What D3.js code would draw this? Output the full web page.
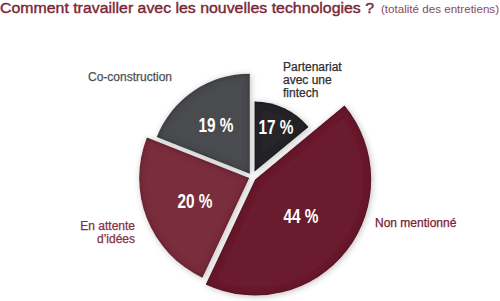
<!DOCTYPE html>
<html>
<head>
<meta charset="utf-8">
<style>
body { margin: 0; background: #fff; overflow: hidden; }
svg { display: block; }
.title { font-family: "Liberation Sans", Arial, sans-serif; fill: #7a2637; }
.lbl { font-family: "Liberation Sans", Arial, sans-serif; font-size: 12px; stroke-width: 0.25px; }
.pct { font-family: "Liberation Sans", Arial, sans-serif; font-weight: bold; font-size: 20px; fill: #fff; text-anchor: middle; }
</style>
</head>
<body>
<svg width="500" height="301"></svg>
<script src="https://d3js.org/d3.v7.min.js"></script>
<script>

// categories, clockwise from 12 o'clock
var categories = ["Partenariat avec une fintech", "Non mentionné", "En attente d’idées", "Co-construction"];
// printed percentages
var percents = [17, 44, 20, 19];
// angular share of each slice as it is drawn in the picture (the artwork is not exact)
var drawnShares = [14, 43, 24, 19];
// label lines
var labelLines = [["Partenariat", "avec une", "fintech"], ["Non mentionné"], ["En attente", "d’idées"], ["Co-construction"]];

// styling per slice
var fills = ["#28282a", "#6a1a2d", "#7a2d3c", "#4a4c50"],
    textColors = ["#2e2e30", "#7a2035", "#83303f", "#4f5054"],
    radii = [70, 116, 110, 100],
    explode = [6, 4, 3, 4];

var svg = d3.select("svg"),
    cx = 252, cy = 177;

var defs = svg.append("defs");
var f = defs.append("filter").attr("id", "shade")
    .attr("x", "-10%").attr("y", "-10%").attr("width", "120%").attr("height", "120%");
f.append("feGaussianBlur").attr("in", "SourceAlpha").attr("stdDeviation", 3).attr("result", "blur");
f.append("feComposite").attr("in", "SourceAlpha").attr("in2", "blur")
    .attr("operator", "arithmetic").attr("k2", 1).attr("k3", -1).attr("result", "ring");
f.append("feFlood").attr("flood-color", "#000").attr("flood-opacity", 0.6).attr("result", "black");
f.append("feComposite").attr("in", "black").attr("in2", "ring").attr("operator", "in").attr("result", "inner");
f.append("feOffset").attr("in", "blur").attr("dx", 1).attr("dy", 1).attr("result", "off");
f.append("feFlood").attr("flood-color", "#000").attr("flood-opacity", 0.25).attr("result", "grey");
f.append("feComposite").attr("in", "grey").attr("in2", "off").attr("operator", "in").attr("result", "drop");
var m = f.append("feMerge");
m.append("feMergeNode").attr("in", "drop");
m.append("feMergeNode").attr("in", "SourceGraphic");
m.append("feMergeNode").attr("in", "inner");

// title
var title = svg.append("text").attr("class", "title").attr("y", 13);
title.append("tspan").attr("x", 0).attr("font-size", 15.5)
    .attr("stroke", "#7a2637").attr("stroke-width", 0.4)
    .attr("textLength", 374).attr("lengthAdjust", "spacingAndGlyphs")
    .text("Comment travailler avec les nouvelles technologies ?");
title.append("tspan").attr("x", 381).attr("font-size", 11).attr("fill", "#8c4a5a")
    .attr("textLength", 118).attr("lengthAdjust", "spacingAndGlyphs")
    .text("(totalité des entretiens)");

var data = categories.map(function(c, i) {
  return { name: c, pct: percents[i], share: drawnShares[i], i: i };
});

var pie = d3.pie().sort(null).value(function(d) { return d.share; });
var arcs = pie(data);

var g = svg.append("g").attr("transform", "translate(" + cx + "," + cy + ")");

var slice = g.selectAll(".slice")
  .data(arcs)
  .enter().append("g")
    .attr("class", "slice")
    .attr("transform", function(d) {
      var a = (d.startAngle + d.endAngle) / 2, e = explode[d.data.i];
      return "translate(" + (Math.sin(a) * e) + "," + (-Math.cos(a) * e) + ")";
    });

slice.append("path")
    .attr("d", function(d) {
      return d3.arc().innerRadius(0).outerRadius(radii[d.data.i])(d);
    })
    .attr("fill", function(d) { return fills[d.data.i]; })
    .attr("filter", "url(#shade)");

// percentage labels, placed along each slice bisector
var pctPos = [0.72, 0.5, 0.53, 0.6];
slice.append("text")
    .attr("class", "pct")
    .attr("transform", function(d) {
      var a = (d.startAngle + d.endAngle) / 2, r = radii[d.data.i] * pctPos[d.data.i];
      return "translate(" + (Math.sin(a) * r) + "," + (-Math.cos(a) * r + 8) + ")";
    })
    .attr("textLength", 35)
    .attr("lengthAdjust", "spacingAndGlyphs")
    .text(function(d) { return d.data.pct + " %"; });

// category labels
var labelAt = [
  { x: 283, y: 71, anchor: "start" },
  { x: 375, y: 227, anchor: "start" },
  { x: 135, y: 230, anchor: "end" },
  { x: 88, y: 81, anchor: "start" }
];
data.forEach(function(d, i) {
  var t = svg.append("text")
      .attr("class", "lbl")
      .attr("fill", textColors[i])
      .attr("stroke", textColors[i])
      .attr("text-anchor", labelAt[i].anchor);
  labelLines[i].forEach(function(line, k) {
    t.append("tspan").attr("x", labelAt[i].x).attr("y", labelAt[i].y + k * 13).text(line);
  });
});

</script>
</body>
</html>
